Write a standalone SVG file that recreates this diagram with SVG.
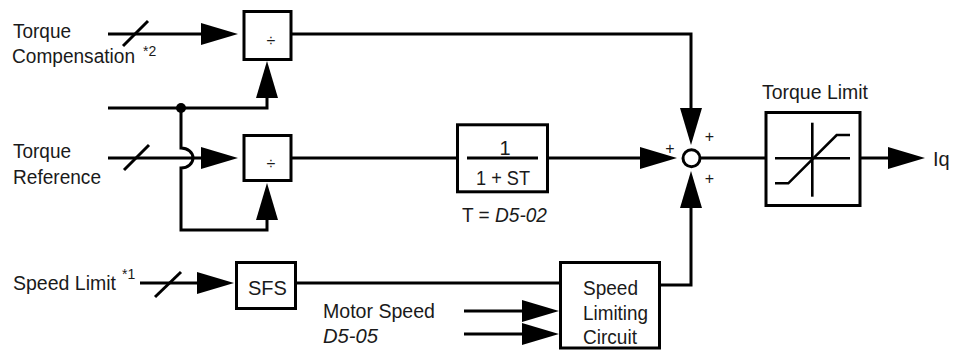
<svg xmlns="http://www.w3.org/2000/svg" width="953" height="361" viewBox="0 0 953 361">
<style>
text{font-family:"Liberation Sans",Arial,sans-serif;font-size:20px;fill:#1a1a1a}
.sup{font-size:14px}
.pl{font-size:16px}
.it{font-style:italic}
.box{fill:#fff;stroke:#000;stroke-width:3}
.ln{fill:none;stroke:#000;stroke-width:3}
.thin{fill:none;stroke:#000;stroke-width:2.6}
</style>
<defs>
<marker id="ah" markerUnits="userSpaceOnUse" viewBox="0 0 37 22" refX="0" refY="11" markerWidth="37" markerHeight="22" orient="auto">
<path d="M0,0 L37,11 L0,22 Z" fill="#000"/>
</marker>
</defs>
<rect width="953" height="361" fill="#fff"/>
<g id="connectors">
<path class="ln" d="M108,34 L201,34" marker-end="url(#ah)"/>
<line class="ln" x1="123" y1="46" x2="148" y2="21"/>
<path class="ln" d="M108,108 L267,108 L267,98" marker-end="url(#ah)"/>
<circle cx="181" cy="108" r="5" fill="#000"/>
<path class="ln" d="M181,108 L181,148 A12,10 0 0 1 181,168 L181,230 L267,230 L267,220" marker-end="url(#ah)"/>
<path class="ln" d="M108,158 L201,158" marker-end="url(#ah)"/>
<line class="ln" x1="124" y1="170" x2="149" y2="145"/>
<path class="ln" d="M292,34 L691,34 L691,108" marker-end="url(#ah)"/>
<path class="ln" d="M292,158 L457,158"/>
<path class="ln" d="M549,158 L640,158" marker-end="url(#ah)"/>
<path class="ln" d="M700,158 L765,158"/>
<path class="ln" d="M861,158 L888,158" marker-end="url(#ah)"/>
<path class="ln" d="M140,283 L197,283" marker-end="url(#ah)"/>
<line class="ln" x1="155" y1="297" x2="181" y2="272"/>
<path class="ln" d="M297,283 L560,283"/>
<path class="ln" d="M464,311 L522,311" marker-end="url(#ah)"/>
<path class="ln" d="M464,334 L522,334" marker-end="url(#ah)"/>
<path class="ln" d="M660,285 L691,285 L691,208" marker-end="url(#ah)"/>
</g>
<g id="label-torque-comp">
<text x="13" y="38" textLength="58" lengthAdjust="spacingAndGlyphs">Torque</text>
<text x="12" y="63" textLength="123" lengthAdjust="spacingAndGlyphs">Compensation</text>
<text class="sup" x="143" y="56">*2</text>
</g>
<g id="label-torque-ref">
<text x="13" y="157.5" textLength="58" lengthAdjust="spacingAndGlyphs">Torque</text>
<text x="13" y="184" textLength="88" lengthAdjust="spacingAndGlyphs">Reference</text>
</g>
<g id="label-speed-limit">
<text x="13" y="290" textLength="103" lengthAdjust="spacingAndGlyphs">Speed Limit</text>
<text class="sup" x="122" y="279">*1</text>
</g>
<g id="label-motor-speed">
<text x="323" y="318" textLength="112" lengthAdjust="spacingAndGlyphs">Motor Speed</text>
<text class="it" x="323" y="343" textLength="55" lengthAdjust="spacingAndGlyphs">D5-05</text>
</g>
<g id="div1">
<rect class="box" x="244" y="11.5" width="47" height="48"/>
<text class="pl" x="271" y="46" text-anchor="middle">÷</text>
</g>
<g id="div2">
<rect class="box" x="244" y="135.5" width="47" height="45"/>
<text class="pl" x="271" y="169" text-anchor="middle">÷</text>
</g>
<g id="lag">
<rect class="box" x="457.5" y="124.8" width="90" height="67"/>
<line class="ln" x1="467" y1="158" x2="538" y2="158"/>
<text x="505" y="155" text-anchor="middle">1</text>
<text x="476" y="185" textLength="54" lengthAdjust="spacingAndGlyphs">1 + ST</text>
<text x="462" y="221.5" textLength="85" lengthAdjust="spacingAndGlyphs">T = <tspan class="it">D5-02</tspan></text>
</g>
<g id="sum">
<circle cx="691.5" cy="158.3" r="8.5" fill="#fff" stroke="#000" stroke-width="3"/>
<text class="pl" x="709.5" y="142" text-anchor="middle">+</text>
<text class="pl" x="670" y="154" text-anchor="middle">+</text>
<text class="pl" x="709.5" y="184" text-anchor="middle">+</text>
</g>
<g id="torque-limit">
<text x="762" y="99" textLength="106" lengthAdjust="spacingAndGlyphs">Torque Limit</text>
<rect class="box" x="766" y="112.5" width="94" height="93"/>
<line class="thin" x1="812.3" y1="122.7" x2="812.3" y2="196.7"/>
<line class="thin" x1="775" y1="158.3" x2="850" y2="158.3"/>
<polyline class="thin" points="775,183.3 788.3,183.3 836.7,135 850,135"/>
</g>
<g id="output">
<text x="933" y="166">Iq</text>
</g>
<g id="sfs">
<rect class="box" x="236.5" y="262.5" width="59" height="46"/>
<text x="248" y="295" textLength="39" lengthAdjust="spacingAndGlyphs">SFS</text>
</g>
<g id="speed-limiting">
<rect class="box" x="560.5" y="262.5" width="99" height="85.5"/>
<text x="583" y="295" textLength="55" lengthAdjust="spacingAndGlyphs">Speed</text>
<text x="583" y="319.5" textLength="65" lengthAdjust="spacingAndGlyphs">Limiting</text>
<text x="583" y="344" textLength="54" lengthAdjust="spacingAndGlyphs">Circuit</text>
</g>
</svg>
